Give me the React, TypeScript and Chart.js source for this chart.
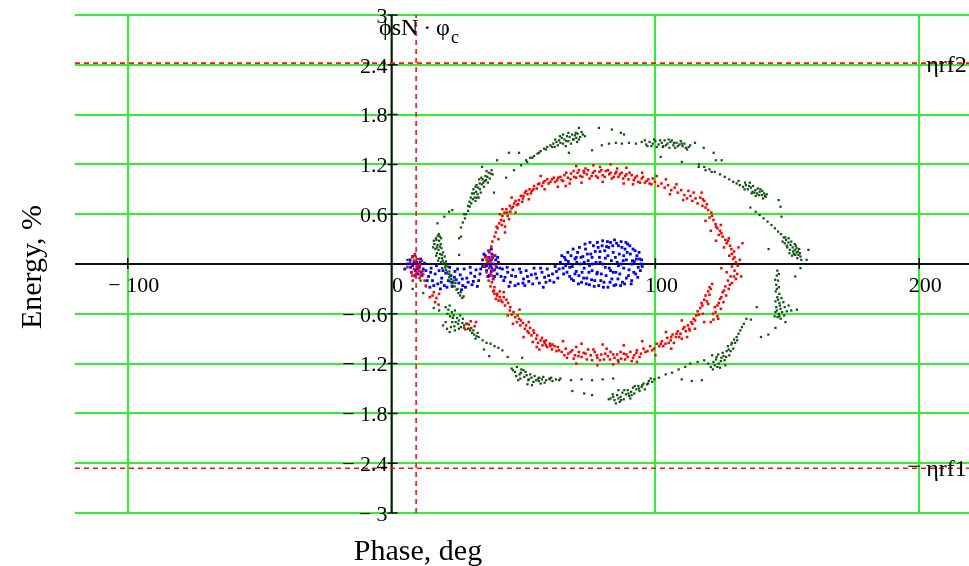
import React, { useEffect, useRef } from "react";
import { Chart, registerables } from "chart.js";

Chart.register(...registerables);

const xTicks = [-100, 0, 100, 200];
const xTickLabels = ["− 100", "0", "100", "200"];
const yTicks = [-3, -2.4, -1.8, -1.2, -0.6, 0, 0.6, 1.2, 1.8, 2.4, 3];
const yTickLabels = ["− 3", "− 2.4", "− 1.8", "− 1.2", "− 0.6", "", "0.6", "1.2", "1.8", "2.4", "3"];
const xRange = [-120, 220];
const yRange = [-3, 3];
const phiMarker = 9.3;
const etaRf2 = 2.42;
const etaRf1 = -2.46;

const greenPoints: [number, number][] = [
  [17.5,0.34],[18.3,0.33],[17.0,0.29],[18.0,0.28],[16.2,0.24],[17.4,0.23],[18.6,0.24],[16.6,0.18],[17.8,0.17],[18.9,0.19],[17.2,0.13],[18.4,0.12],[19.5,0.14],[18.0,0.07],[19.1,0.07],[20.1,0.09],[18.7,0.02],[19.8,0.01],[20.6,0.03],[20.3,-0.04],[21.2,-0.03],[21.0,-0.10],[21.9,-0.09],[21.8,-0.16],[22.6,-0.18],[23.2,-0.23],[23.9,-0.27],[24.6,-0.31],[25.3,-0.35],[26.0,-0.38],[26.8,-0.41],
  [16.8,0.31],[17.9,0.36],[16.0,0.28],[17.2,0.20],[18.3,0.21],[16.9,0.10],[19.0,0.11],[17.6,0.04],[19.4,0.04],[20.4,-0.01],[19.2,-0.05],[20.7,-0.07],[21.5,-0.12],[22.2,-0.13],[22.0,-0.21],[23.5,-0.20],[22.8,-0.26],[24.2,-0.23],[25.0,-0.30],[26.2,-0.34],[27.3,-0.39],[18.8,0.31],[15.8,0.20],
  [17.4,0.49],[20.0,0.57],[21.8,0.63],[23.0,0.65],[26.3,0.33],[25.6,0.11],[25.6,0.31],[6.0,0.05],[9.0,0.10],[11.0,-0.20],[13.0,-0.27],[8.0,-0.30],[12.0,-0.35],[16.0,-0.53],[18.0,-0.56],
  [26.3,0.44],[27.0,0.50],[27.8,0.55],[28.2,0.60],[29.0,0.64],[29.6,0.69],[30.2,0.73],[30.8,0.78],[31.5,0.80],[31.2,0.85],[32.0,0.87],[32.6,0.84],[32.8,0.92],[33.5,0.90],[33.4,0.97],[34.2,0.96],[34.5,1.02],[35.3,1.00],[35.6,1.06],[36.3,1.05],[36.8,1.10],[37.6,1.09],[37.9,1.13],[34.0,1.04],[31.8,0.76],[33.0,0.80],[30.0,0.80],[35.0,0.93],[36.5,0.98],[32.2,0.95],
  [29.5,0.75],[30.5,0.85],[31.0,0.90],[32.3,0.80],[33.8,0.86],[34.8,0.98],[35.8,1.01],[36.0,1.12],[37.2,1.03],[38.3,1.08],[33.2,1.02],[31.8,0.93],[29.0,0.70],[27.5,0.60],
  [34.3,1.17],[40.0,1.25],[44.5,1.34],[48.3,1.34],[43.4,1.04],[38.8,0.86],[46.4,1.13],[49.1,1.19],[51.4,1.23],[53.3,1.28],[55.9,1.34],[58.5,1.38],[60.8,1.41],
  [51.0,1.25],[52.5,1.28],[54.0,1.30],[55.3,1.33],[56.5,1.36],[57.8,1.39],[59.0,1.41],[60.2,1.43],[61.3,1.45],[62.5,1.47],[63.5,1.49],[64.5,1.52],[65.5,1.50],[66.5,1.54],[67.5,1.53],[68.4,1.56],[69.5,1.55],[70.5,1.57],[71.5,1.53],[72.5,1.56],[63.0,1.43],[65.0,1.45],[67.0,1.48],[69.0,1.50],[70.0,1.52],[73.3,1.54],[66.0,1.42],[68.0,1.45],
  [62.0,1.50],[63.8,1.54],[65.0,1.56],[66.2,1.48],[67.0,1.58],[68.8,1.50],[69.8,1.58],[71.0,1.50],[72.0,1.59],[70.3,1.47],[64.0,1.46],[61.8,1.41],
  [71.0,1.64],[78.6,1.64],[83.5,1.62],[86.9,1.58],[88.1,1.56],[67.2,1.34],[76.0,1.37],[102.0,1.29],
  [79.7,1.43],[82.4,1.45],[85.0,1.46],[87.3,1.45],[90.0,1.46],[92.6,1.45],[94.8,1.47],[96.5,1.44],[97.8,1.47],[99.0,1.45],[100.0,1.48],[101.2,1.44],[102.4,1.46],[103.5,1.49],[104.6,1.45],[105.7,1.47],[106.8,1.43],[108.0,1.46],[109.1,1.44],[110.3,1.42],[111.5,1.40],[112.6,1.41],[98.5,1.42],[103.0,1.42],[107.5,1.40],[110.0,1.45],[112.0,1.38],[115.0,1.46],[100.5,1.41],[105.0,1.50],
  [96.0,1.49],[97.0,1.42],[99.5,1.50],[101.8,1.49],[102.8,1.41],[104.0,1.43],[106.2,1.49],[107.0,1.46],[108.5,1.42],[109.6,1.48],[111.0,1.45],[113.2,1.43],[105.3,1.40],
  [118.3,1.40],[122.1,1.34],[122.9,1.25],[110.0,1.23],[116.4,1.17],[119.0,1.13],[121.3,1.11],[125.1,1.25],
  [116.5,1.20],[118.5,1.17],[120.5,1.14],[122.5,1.11],[124.5,1.08],[126.3,1.05],[128.0,1.02],[129.5,0.99],[130.8,0.97],[132.0,0.95],[133.2,0.93],[134.3,0.95],[135.0,0.90],[136.2,0.92],[136.8,0.87],[137.9,0.89],[138.5,0.85],[139.5,0.87],[140.3,0.83],[141.2,0.85],[141.8,0.81],[134.0,0.98],[137.0,0.94],[139.8,0.90],[131.5,1.00],[138.0,0.82],[140.8,0.79],
  [133.8,0.90],[135.5,0.94],[136.5,0.85],[138.8,0.91],[139.2,0.83],[140.5,0.88],[141.5,0.82],[142.2,0.84],[137.5,0.86],[135.8,0.98],
  [146.7,0.77],[147.4,0.69],[147.8,0.57],[136.0,0.68],
  [138.0,0.63],[139.5,0.59],[141.0,0.55],[142.5,0.51],[144.0,0.47],[145.3,0.43],[146.5,0.39],[147.6,0.36],[148.6,0.32],[149.5,0.29],[150.4,0.26],[151.2,0.23],[152.0,0.20],[152.8,0.17],[153.5,0.14],[154.2,0.11],[155.0,0.09],[149.8,0.22],[151.0,0.17],[152.5,0.12],[150.5,0.31],[153.2,0.22],[154.5,0.18],[148.2,0.27],[151.8,0.10],[153.8,0.07],
  [149.0,0.25],[150.0,0.20],[151.5,0.27],[152.2,0.15],[153.0,0.11],[154.0,0.15],[154.8,0.13],[155.3,0.05],[153.5,0.19],[150.8,0.13],[152.8,0.24],[149.2,0.32],
  [158.0,0.17],[157.3,0.05],[155.0,-0.05],[153.0,-0.15],[142.9,0.18],
  [146.2,-0.08],[146.0,-0.14],[146.5,-0.20],[145.8,-0.25],[146.8,-0.28],[145.6,-0.33],[147.0,-0.36],[146.2,-0.40],[147.8,-0.41],[145.5,-0.45],[147.0,-0.47],[148.5,-0.46],[145.8,-0.52],[147.4,-0.54],[149.0,-0.52],[150.5,-0.50],[145.5,-0.58],[146.8,-0.60],[148.0,-0.58],[151.5,-0.56],[146.3,-0.64],[147.5,-0.66],
  [146.0,-0.30],[146.5,-0.43],[147.2,-0.50],[146.0,-0.56],[148.8,-0.62],[147.0,-0.63],[149.8,-0.57],[145.2,-0.63],[146.8,-0.12],[145.4,-0.19],
  [149.3,-0.70],[153.6,-0.55],[138.4,-0.52],[145.5,-0.77],[142.8,-0.85],[140.0,-0.88],[136.2,-0.67],
  [121.0,-1.24],[122.5,-1.22],[124.0,-1.20],[123.0,-1.15],[125.0,-1.13],[126.2,-1.16],[125.5,-1.07],[127.0,-1.05],[128.0,-1.10],[127.5,-0.99],[128.8,-0.97],[129.5,-1.02],[129.8,-0.91],[130.8,-0.88],[131.5,-0.84],[132.2,-0.80],[132.8,-0.76],[133.5,-0.72],[134.5,-0.66],[120.0,-1.20],[126.5,-1.22],[124.5,-1.25],[121.5,-1.10],[123.8,-1.09],
  [122.0,-1.18],[123.5,-1.24],[124.8,-1.17],[125.8,-1.11],[126.8,-1.12],[127.8,-1.03],[128.5,-1.05],[129.0,-0.95],[130.2,-0.95],[131.0,-0.92],[121.8,-1.27],[123.2,-1.12],
  [110.0,-1.39],[113.8,-1.41],[117.6,-1.40],
  [101.3,-1.37],[103.9,-1.33],[106.3,-1.31],[108.8,-1.27],[111.3,-1.24],[113.2,-1.20],[116.0,-1.18],[118.5,-1.16],
  [83.0,-1.62],[84.5,-1.64],[85.5,-1.58],[86.8,-1.60],[87.5,-1.55],[88.8,-1.57],[89.5,-1.52],[90.8,-1.54],[91.5,-1.49],[92.8,-1.51],[93.5,-1.47],[94.8,-1.48],[95.5,-1.44],[96.8,-1.45],[97.5,-1.41],[98.8,-1.42],[99.6,-1.39],[85.0,-1.68],[88.0,-1.63],[90.0,-1.59],[92.0,-1.56],[86.0,-1.52],[94.0,-1.53],[82.3,-1.63],
  [84.0,-1.60],[86.0,-1.62],[87.0,-1.64],[88.2,-1.52],[89.8,-1.56],[91.0,-1.58],[92.2,-1.47],[93.8,-1.50],[95.0,-1.46],[96.0,-1.51],[97.2,-1.44],[98.2,-1.38],[90.5,-1.62],[86.5,-1.66],[83.8,-1.57],
  [56.0,-1.37],[60.0,-1.39],[64.0,-1.38],[68.0,-1.40],[72.0,-1.39],[76.0,-1.40],[80.0,-1.39],[84.0,-1.38],[68.5,-1.53],[73.0,-1.56],[76.0,-1.58],
  [45.5,-1.26],[46.8,-1.30],[47.5,-1.24],[48.5,-1.33],[49.2,-1.27],[50.3,-1.36],[50.8,-1.30],[52.0,-1.39],[52.5,-1.33],[53.8,-1.42],[54.2,-1.35],[55.5,-1.38],[56.5,-1.44],[57.5,-1.36],[58.6,-1.40],[59.8,-1.38],[61.0,-1.41],[62.3,-1.39],[63.5,-1.40],[51.5,-1.45],[48.0,-1.40],
  [46.0,-1.28],[47.2,-1.35],[49.0,-1.31],[50.0,-1.28],[51.2,-1.34],[51.8,-1.40],[53.0,-1.37],[54.8,-1.40],[55.8,-1.41],[57.0,-1.39],[58.0,-1.43],[60.5,-1.37],[48.8,-1.38],[53.2,-1.46],
  [20.5,-0.52],[21.5,-0.55],[22.0,-0.50],[22.8,-0.58],[23.5,-0.62],[24.0,-0.56],[24.8,-0.65],[25.5,-0.68],[26.0,-0.62],[26.8,-0.71],[27.5,-0.74],[28.3,-0.72],[29.0,-0.78],[29.8,-0.80],[30.5,-0.83],[31.3,-0.85],[32.2,-0.87],[33.0,-0.88],[19.5,-0.74],[21.0,-0.78],[22.5,-0.76],[24.0,-0.80],[25.5,-0.78],[23.0,-0.70],
  [21.2,-0.60],[22.2,-0.63],[23.2,-0.65],[24.3,-0.70],[25.2,-0.72],[26.3,-0.76],[27.0,-0.66],[28.0,-0.79],[29.3,-0.73],[30.2,-0.77],[31.0,-0.80],[31.8,-0.90],[32.6,-0.83],[20.5,-0.70],[22.0,-0.82],[23.8,-0.75],
  [34.5,-0.92],[36.0,-0.95],[37.5,-0.96],[39.0,-0.99],[40.5,-1.01],[42.0,-1.04],[35.0,-1.03],[37.0,-1.11],[44.0,-1.12],[49.5,-1.13],
];

const redPoints: [number, number][] = [
  [7.0,0.02],[8.0,0.08],[9.0,0.03],[10.0,-0.02],[8.5,-0.06],[9.5,-0.10],[10.5,-0.08],[11.0,-0.14],[7.5,-0.10],[9.0,-0.15],[10.0,0.06],[11.5,0.04],[12.0,-0.12],[6.0,-0.04],[12.5,-0.20],[13.0,-0.26],[8.0,-0.20],
  [8.5,0.04],[9.8,-0.04],[10.8,-0.01],[9.2,-0.12],[11.8,-0.08],[8.8,0.12],[7.8,-0.14],[10.6,-0.17],
  [15.5,-0.38],[17.0,-0.41],[18.0,-0.36],[16.5,-0.46],[17.8,-0.49],[14.5,-0.40],[16.0,-0.34],
  [28.5,-0.72],[30.0,-0.69],[31.5,-0.75],[29.5,-0.78],[32.0,-0.70],[27.5,-0.77],
  [35.5,0.08],[36.5,0.02],[37.0,-0.05],[38.0,0.05],[37.5,-0.12],[38.5,-0.08],[36.0,-0.10],[39.0,0.10],[35.0,-0.02],[38.5,-0.18],[37.0,0.14],
  [36.0,0.05],[37.5,0.03],[38.2,-0.14],[36.8,-0.20],[39.5,-0.02],
  [38.0,-0.22],[39.0,-0.28],[38.5,-0.33],[40.0,-0.36],[39.5,-0.42],[41.0,-0.40],
  [37.5,-0.27],[38.8,-0.32],[40.0,-0.38],[41.0,-0.33],[41.5,-0.44],[42.5,-0.40],[43.0,-0.50],[44.2,-0.47],[44.8,-0.56],[45.5,-0.61],[46.8,-0.64],[47.5,-0.70],[48.3,-0.66],[48.8,-0.74],[49.8,-0.71],[50.5,-0.78],[51.5,-0.81],[52.5,-0.77],[53.0,-0.86],[54.0,-0.83],[54.8,-0.90],[55.5,-0.95],[56.5,-0.92],[57.2,-0.98],[58.0,-0.95],[59.0,-1.00],[60.0,-0.96],[60.8,-1.03],[61.8,-0.99],[62.5,-1.05],[50.0,-0.88],[53.5,-0.94],[56.0,-1.03],[46.0,-0.72],
  [39.0,-0.36],[40.5,-0.44],[42.0,-0.46],[43.5,-0.43],[45.0,-0.52],[46.2,-0.58],[47.8,-0.62],[49.0,-0.68],[51.0,-0.74],[52.0,-0.83],[53.8,-0.80],[55.2,-0.86],[57.0,-0.89],[58.5,-0.92],[61.0,-0.97],
  [63.0,-1.00],[64.5,-1.06],[66.0,-1.02],[67.0,-1.08],[68.5,-1.04],[69.5,-1.10],[71.0,-1.06],[72.0,-1.12],[73.5,-1.08],[74.5,-1.03],[75.5,-1.10],[77.0,-1.06],[78.0,-1.13],[79.5,-1.09],[80.5,-1.15],[82.0,-1.11],[83.0,-1.06],[84.5,-1.13],[85.5,-1.09],[87.0,-1.14],[88.0,-1.08],[89.5,-1.12],[90.5,-1.06],[92.0,-1.10],[93.0,-1.04],[94.5,-1.08],[95.5,-1.02],[97.0,-1.05],[98.0,-0.99],[99.5,-1.02],[100.5,-0.96],[70.0,-1.00],[76.0,-1.16],[81.5,-1.02],[86.0,-1.18],[91.0,-1.17],[66.5,-1.13],
  [63.5,-1.04],[65.5,-1.10],[67.8,-1.06],[69.0,-1.14],[70.8,-1.11],[72.8,-1.07],[74.0,-1.15],[76.5,-1.03],[77.8,-1.10],[79.0,-1.16],[81.0,-1.08],[82.8,-1.15],[84.0,-1.09],[85.8,-1.16],[86.8,-1.06],[88.5,-1.15],[89.0,-1.09],[91.5,-1.13],[92.8,-1.07],[94.0,-1.12],[96.2,-1.06],[98.8,-1.04],[60.2,-0.99],[58.5,-0.98],[57.8,-0.93],
  [65.0,-0.93],[72.0,-0.96],[80.0,-0.97],[88.0,-0.98],[95.0,-0.93],[70.0,-1.20],[78.0,-1.22],[84.0,-1.21],[93.0,-1.18],[100.0,-1.10],[106.0,-1.02],[112.0,-0.88],[115.0,-0.78],[104.0,-0.82],[110.0,-0.68],[44.0,-0.62],[48.5,-0.55],[52.0,-0.70],[55.0,-1.00],[42.5,-0.34],
  [101.5,-0.99],[102.5,-0.93],[103.8,-0.96],[104.5,-0.89],[105.8,-0.92],[106.5,-0.85],[107.8,-0.88],[108.5,-0.81],[109.5,-0.84],[110.5,-0.78],[111.5,-0.81],[112.3,-0.74],[113.5,-0.70],[114.5,-0.66],[115.5,-0.62],[116.0,-0.57],[117.0,-0.53],[117.5,-0.47],[118.5,-0.43],[119.0,-0.38],[120.0,-0.33],[120.5,-0.28],[121.5,-0.24],[107.0,-0.95],[110.0,-0.90],[113.0,-0.80],[118.0,-0.60],
  [102.0,-0.96],[103.0,-0.99],[105.0,-0.95],[106.0,-0.88],[108.0,-0.84],[109.0,-0.88],[111.0,-0.76],[112.8,-0.78],[114.0,-0.72],[115.0,-0.68],[116.5,-0.61],[117.8,-0.50],[119.5,-0.45],[120.5,-0.37],[121.0,-0.30],
  [117.0,0.80],[118.5,0.76],[117.8,0.70],[119.5,0.72],[120.0,0.65],[121.2,0.62],[120.5,0.56],[122.0,0.53],[122.8,0.48],[123.5,0.43],[124.5,0.40],[124.0,0.35],[125.5,0.33],[126.5,0.29],[127.0,0.25],[128.3,0.22],[128.8,0.18],[129.8,0.15],[128.0,0.10],[129.5,0.06],[130.5,0.02],[129.0,-0.03],[130.0,-0.08],[131.0,-0.12],[128.5,-0.15],[127.5,-0.20],[129.0,-0.23],[126.5,-0.27],[127.8,-0.30],[125.5,-0.34],[126.8,-0.38],[124.5,-0.42],[125.8,-0.46],[123.5,-0.50],[124.8,-0.54],[122.8,-0.58],[123.5,-0.63],[122.0,-0.67],[121.0,-0.70],[126.0,0.20],[131.5,0.20],[127.0,-0.10],
  [118.0,0.78],[119.0,0.68],[121.5,0.58],[123.0,0.45],[125.0,0.37],[127.5,0.28],[129.0,0.12],[130.0,0.08],[131.2,-0.02],[129.8,-0.15],[128.2,-0.25],[126.0,-0.32],[125.0,-0.40],[124.0,-0.47],[122.5,-0.52],[123.8,-0.66],[121.8,-0.60],[130.5,-0.18],[127.8,0.31],[124.8,0.47],
  [133.0,0.25],[132.0,0.05],[132.5,-0.15],[119.0,0.52],[121.0,0.40],[123.0,0.28],[125.0,-0.05],[120.0,-0.48],[118.5,-0.70],
  [36.5,0.08],[37.0,0.15],[37.8,0.21],[38.2,0.27],[39.0,0.33],[39.5,0.38],[40.2,0.43],[40.8,0.49],[41.5,0.53],[42.0,0.58],[42.8,0.62],[43.5,0.66],[41.0,0.60],[42.5,0.52],[44.0,0.58],[44.8,0.70],[45.5,0.67],[46.5,0.73],[47.5,0.71],[48.3,0.77],[49.0,0.82],[49.8,0.79],[50.5,0.86],[51.5,0.84],[52.3,0.90],[53.2,0.88],[54.0,0.94],[55.0,0.91],[56.0,0.97],[57.0,0.94],[58.0,1.00],[59.5,0.97],[60.8,1.02],[62.0,0.99],[63.2,1.04],[38.5,0.10],[40.5,0.30],[43.0,0.45],
  [39.8,0.45],[41.8,0.47],[43.8,0.62],[45.0,0.63],[46.0,0.69],[47.0,0.76],[48.0,0.72],[49.5,0.75],[50.0,0.82],[51.0,0.88],[52.8,0.85],[53.8,0.90],[55.5,0.96],[57.5,0.98],[59.0,1.02],[60.2,0.99],[61.5,1.04],[62.8,1.01],[42.0,0.66],[44.5,0.54],
  [64.5,1.01],[65.5,1.07],[66.8,1.04],[68.0,1.09],[69.2,1.05],[70.5,1.10],[71.5,1.06],[72.8,1.12],[74.0,1.08],[75.0,1.03],[76.3,1.10],[77.5,1.06],[78.8,1.11],[80.0,1.07],[81.2,1.12],[82.5,1.08],[83.5,1.03],[84.8,1.09],[86.0,1.05],[87.2,1.10],[88.5,1.06],[89.8,1.02],[91.0,1.07],[92.3,1.04],[93.5,0.99],[94.8,1.03],[96.0,0.98],[97.3,1.02],[98.5,0.96],[99.8,0.99],[73.5,1.15],[79.0,1.17],[85.5,1.15],[91.5,0.96],[67.5,0.97],
  [64.0,1.05],[65.0,1.00],[66.2,1.10],[67.8,1.02],[69.0,1.12],[70.0,1.04],[71.0,1.13],[72.3,1.05],[73.0,1.10],[74.5,1.13],[75.8,1.06],[77.0,1.12],[78.2,1.04],[79.5,1.13],[80.8,1.05],[82.0,1.13],[83.0,1.10],[84.2,1.05],[85.2,1.11],[86.5,1.08],[87.8,1.03],[89.0,1.08],[90.2,1.10],[91.8,1.01],[93.0,1.06],[94.2,0.98],[95.3,1.05],[96.6,1.00],[97.8,0.97],[99.0,1.03],
  [70.0,1.18],[76.5,1.19],[83.0,1.20],[89.0,1.16],[95.0,1.10],[66.0,0.94],[72.0,0.98],[80.0,0.99],[88.0,0.97],[100.5,1.06],[104.0,1.02],[108.0,0.96],[114.5,0.86],[117.5,0.86],[63.0,0.93],[58.0,0.90],[52.0,0.78],[47.0,0.62],[43.0,0.38],[45.5,0.80],[56.5,1.06],
  [101.0,0.94],[102.3,0.97],[103.5,0.92],[104.8,0.95],[106.0,0.89],[107.3,0.92],[108.5,0.86],[109.8,0.89],[111.0,0.83],[112.0,0.79],[113.3,0.82],[114.0,0.76],[115.2,0.79],[116.0,0.73],[105.5,0.84],[110.5,0.77],[112.5,0.88],
];

const bluePoints: [number, number][] = [
  [7.0,0.05],[8.0,0.09],[9.5,0.02],[10.5,-0.04],[9.0,-0.08],[11.0,0.06],[8.0,-0.02],[10.0,-0.12],[12.0,-0.06],[7.5,-0.10],[6.0,0.00],[11.5,-0.14],[12.5,0.01],[5.0,-0.06],
  [8.5,0.02],[9.8,-0.06],[10.8,0.02],[8.8,-0.14],[7.2,-0.04],[11.2,-0.10],
  [13.0,-0.08],[14.0,-0.15],[15.0,-0.05],[15.5,-0.20],[16.5,-0.12],[17.5,-0.24],[18.0,-0.08],[19.0,-0.17],[20.0,-0.26],[20.5,-0.11],[21.5,-0.20],[22.5,-0.14],[23.0,-0.27],[24.0,-0.09],[24.5,-0.19],[25.5,-0.23],[26.0,-0.13],[27.0,-0.26],[27.5,-0.06],[28.5,-0.17],[29.0,-0.22],[30.0,-0.11],[30.5,-0.25],[31.5,-0.15],[32.0,-0.07],[33.0,-0.20],[33.5,-0.12],[34.5,-0.03],[14.5,-0.28],[18.5,-0.30],[22.0,-0.04],[26.5,-0.31],
  [13.5,-0.20],[14.8,-0.10],[16.0,-0.26],[17.0,-0.02],[18.8,-0.22],[19.5,-0.08],[21.0,-0.28],[22.8,-0.22],[23.8,-0.16],[25.0,-0.06],[26.8,-0.18],[28.0,-0.28],[29.8,-0.04],[31.0,-0.21],[32.5,-0.27],[33.8,-0.06],
  [34.5,0.05],[35.5,0.10],[36.5,0.03],[37.0,0.08],[37.5,-0.02],[38.0,0.12],[38.5,0.00],[39.0,-0.07],[39.5,0.05],[40.0,-0.12],[36.0,-0.08],[37.0,-0.14],[38.5,-0.18],[35.5,-0.03],[40.5,0.02],[41.0,-0.05],[36.8,0.16],[39.2,0.10],[37.8,-0.09],[41.5,-0.15],
  [35.0,0.12],[36.2,-0.02],[37.3,0.05],[38.3,0.08],[39.8,-0.04],[40.2,0.08],[36.5,-0.15],[39.0,-0.15],[38.0,-0.05],[37.8,0.18],
  [42.0,-0.06],[43.0,-0.16],[44.0,-0.10],[45.0,-0.22],[46.0,-0.07],[47.0,-0.15],[48.0,-0.24],[49.0,-0.10],[50.0,-0.18],[51.0,-0.08],[52.0,-0.21],[53.0,-0.13],[54.0,-0.05],[55.0,-0.17],[56.0,-0.23],[57.0,-0.10],[58.0,-0.16],[59.0,-0.06],[60.0,-0.20],[61.0,-0.12],[62.0,-0.03],[63.0,-0.17],[44.5,-0.27],[50.5,-0.26],[57.5,-0.28],
  [42.5,-0.20],[43.8,-0.04],[45.5,-0.14],[46.8,-0.26],[48.5,-0.06],[49.8,-0.23],[51.5,-0.15],[53.5,-0.24],[54.5,-0.12],[56.5,-0.05],[58.5,-0.22],[59.5,-0.14],[61.5,-0.22],[62.5,-0.09],
  [64.0,0.02],[65.0,-0.05],[65.5,0.08],[66.5,-0.10],[67.0,0.03],[67.5,-0.15],[68.0,0.10],[68.5,-0.03],[69.0,-0.20],[69.5,0.06],[70.0,-0.09],[70.5,0.14],[71.0,-0.14],[71.5,0.00],[72.0,-0.22],[72.5,0.09],[73.0,-0.05],[73.5,0.18],[74.0,-0.17],[74.5,0.04],[75.0,-0.25],[75.5,0.12],[76.0,-0.08],[76.5,0.22],[77.0,-0.20],[77.5,0.02],[78.0,0.26],[78.5,-0.26],[79.0,0.15],[79.5,-0.12],[80.0,0.28],[80.5,-0.22],[81.0,0.07],[81.5,0.21],[82.0,-0.28],[82.5,-0.05],[83.0,0.26],[83.5,-0.18],[84.0,0.14],[84.5,0.29],[85.0,-0.25],[85.5,0.02],[86.0,0.22],[86.5,-0.12],[87.0,0.27],[87.5,-0.22],[88.0,0.10],[88.5,0.18],[89.0,-0.17],[89.5,0.24],[90.0,-0.07],[90.5,0.12],[91.0,-0.20],[91.5,0.18],[92.0,0.03],[92.5,-0.12],[93.0,0.10],[93.5,-0.04],[94.0,0.06],[94.5,0.00],[95.0,-0.03],[80.0,0.00],[82.0,0.10],[86.0,-0.02],[78.0,-0.10],[88.0,-0.05],[84.0,-0.10],[76.0,0.08],
  [63.5,-0.06],[64.5,0.10],[65.2,-0.12],[66.0,0.05],[66.8,0.14],[67.5,-0.04],[68.2,-0.18],[68.8,0.18],[69.5,-0.12],[70.2,0.02],[70.8,-0.24],[71.2,0.20],[71.8,0.08],[72.2,-0.10],[72.8,-0.17],[73.3,0.24],[73.8,-0.24],[74.2,0.12],[74.8,-0.10],[75.2,0.26],[75.8,-0.19],[76.2,0.00],[76.8,-0.27],[77.2,0.15],[77.8,-0.12],[78.3,0.20],[78.8,0.08],[79.3,-0.20],[79.8,0.22],[80.3,-0.28],[80.8,0.16],[81.3,-0.14],[81.8,0.27],[82.3,0.20],[82.8,-0.22],[83.3,0.04],[83.8,0.22],[84.3,-0.26],[84.8,0.08],[85.3,0.25],[85.8,-0.18],[86.3,0.12],[86.8,-0.26],[87.3,0.20],[87.8,0.04],[88.3,-0.24],[88.8,0.26],[89.3,0.14],[89.8,-0.14],[90.3,0.22],[90.8,-0.24],[91.3,0.04],[91.8,-0.10],[92.3,0.16],[92.8,0.06],[93.3,-0.16],[93.8,0.14],[94.3,-0.08],[94.8,0.05],[66.0,-0.02],[70.0,0.08],[73.0,0.02],[75.0,-0.02],[79.0,0.02],[81.0,-0.04],[83.0,-0.08],[85.0,-0.10],[87.0,0.00],[89.0,0.05],[91.0,0.00],
];

const GRID = "#33ee33";
const SERIF = '"Liberation Serif", "Times New Roman", serif';

export default function App() {
  const ref = useRef<HTMLCanvasElement>(null);

  useEffect(() => {
    const canvas = ref.current;
    if (!canvas) return;
    const toXY = (a: [number, number][]) => a.map(([x, y]) => ({ x, y }));

    const plugin = {
      id: "mathcadDecor",
      beforeDatasetsDraw(chart: any) {
        const { ctx, chartArea } = chart;
        const xs = chart.scales.x;
        const ys = chart.scales.y;
        const x0 = xs.getPixelForValue(0);
        const y0 = ys.getPixelForValue(0);
        ctx.save();
        ctx.strokeStyle = "#111";
        ctx.lineWidth = 2;
        ctx.beginPath();
        ctx.moveTo(x0, chartArea.top);
        ctx.lineTo(x0, chartArea.bottom);
        ctx.moveTo(chartArea.left, y0);
        ctx.lineTo(chartArea.right, y0);
        ctx.stroke();
        ctx.lineWidth = 1.5;
        ctx.beginPath();
        yTicks.forEach((v) => {
          const py = ys.getPixelForValue(v);
          ctx.moveTo(x0 - 4, py);
          ctx.lineTo(x0 + 6, py);
        });
        xTicks.forEach((v) => {
          if (v === 0) return;
          const px = xs.getPixelForValue(v);
          ctx.moveTo(px, y0 - 6);
          ctx.lineTo(px, y0 + 5);
        });
        ctx.stroke();
        ctx.restore();
      },
      afterDraw(chart: any) {
        const { ctx } = chart;
        const xs = chart.scales.x;
        const ys = chart.scales.y;
        const x0 = xs.getPixelForValue(0);
        const y0 = ys.getPixelForValue(0);
        ctx.save();
        ctx.fillStyle = "#000";
        ctx.font = `22px ${SERIF}`;
        ctx.textAlign = "right";
        ctx.textBaseline = "middle";
        yTicks.forEach((v, i) => {
          if (!yTickLabels[i]) return;
          ctx.fillText(yTickLabels[i], x0 - 4, ys.getPixelForValue(v) + 2);
        });
        ctx.textAlign = "center";
        xTicks.forEach((v, i) => {
          ctx.fillText(xTickLabels[i], xs.getPixelForValue(v) + 6, y0 + 22);
        });

        // marker labels
        ctx.textAlign = "left";
        ctx.textBaseline = "alphabetic";
        ctx.font = `24px ${SERIF}`;
        const mx = xs.getPixelForValue(phiMarker);
        const top = chart.chartArea.top;
        const main = "ϕsN\u2009·\u2009φ";
        ctx.fillText(main, mx - 37, top + 20);
        const w = ctx.measureText(main).width;
        ctx.font = `18px ${SERIF}`;
        ctx.fillText("c", mx - 37 + w + 1, top + 28);
        ctx.font = `24px ${SERIF}`;
        const x200 = xs.getPixelForValue(200);
        ctx.fillText("ηrf2", x200 + 7, ys.getPixelForValue(etaRf2) + 9);
        ctx.fillText("−", x200 - 12, ys.getPixelForValue(etaRf1) + 6);
        ctx.fillText("ηrf1", x200 + 7, ys.getPixelForValue(etaRf1) + 8);

        // axis titles
        ctx.font = `30px ${SERIF}`;
        ctx.textAlign = "center";
        ctx.fillText("Phase, deg", 418, 560);
        ctx.save();
        ctx.translate(33, 267);
        ctx.rotate(-Math.PI / 2);
        ctx.textBaseline = "middle";
        ctx.fillText("Energy, %", 0, 0);
        ctx.restore();
        ctx.restore();
      },
    };

    const markerStyle = {
      showLine: true,
      borderColor: "#ff1010",
      borderWidth: 1.6,
      borderDash: [5, 4],
      pointRadius: 0,
      pointHoverRadius: 0,
      order: 4,
    };

    const chart = new Chart(canvas, {
      type: "scatter",
      data: {
        datasets: [
          { label: "red", data: toXY(redPoints), backgroundColor: "#ff0000", pointStyle: "rect", pointRadius: 1.8, borderWidth: 0, order: 1 } as any,
          { label: "green", data: toXY(greenPoints), backgroundColor: "#0f520f", pointStyle: "rect", pointRadius: 1.6, borderWidth: 0, order: 2 } as any,
          { label: "blue", data: toXY(bluePoints), backgroundColor: "#0000ff", pointStyle: "rect", pointRadius: 2.0, borderWidth: 0, order: 3 } as any,
          { label: "phi", data: [{ x: phiMarker, y: yRange[0] }, { x: phiMarker, y: yRange[1] }], ...markerStyle } as any,
          { label: "rf2", data: [{ x: xRange[0], y: etaRf2 }, { x: xRange[1], y: etaRf2 }], ...markerStyle } as any,
          { label: "rf1", data: [{ x: xRange[0], y: etaRf1 }, { x: xRange[1], y: etaRf1 }], ...markerStyle } as any,
        ],
      },
      options: {
        responsive: false,
        animation: false,
        devicePixelRatio: 1,
        events: [],
        layout: { padding: { left: 75, right: 3, top: 15, bottom: 53 } },
        plugins: { legend: { display: false }, tooltip: { enabled: false } },
        scales: {
          x: {
            type: "linear",
            min: xRange[0],
            max: xRange[1],
            afterBuildTicks: (s: any) => { s.ticks = xTicks.map((v) => ({ value: v })); },
            ticks: { display: false },
            grid: { color: GRID, lineWidth: 2, drawTicks: false },
            border: { display: false },
          },
          y: {
            type: "linear",
            min: yRange[0],
            max: yRange[1],
            afterBuildTicks: (s: any) => { s.ticks = yTicks.map((v) => ({ value: v })); },
            ticks: { display: false },
            grid: { color: GRID, lineWidth: 2, drawTicks: false },
            border: { display: false },
          },
        },
      } as any,
      plugins: [plugin],
    });
    return () => chart.destroy();
  }, []);

  return (
    <div style={{ position: "fixed", left: 0, top: 0, width: 969, height: 566, overflow: "hidden", background: "#fff" }}>
      <canvas ref={ref} width={976} height={566} style={{ display: "block" }} />
    </div>
  );
}
